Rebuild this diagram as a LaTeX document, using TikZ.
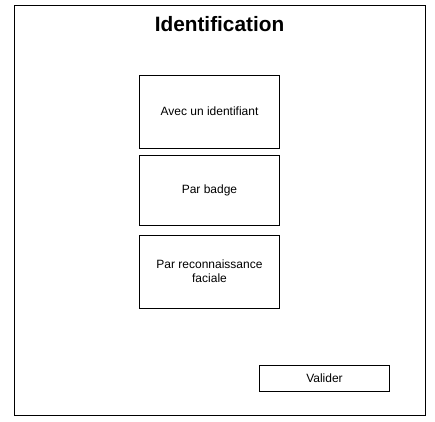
\documentclass[tikz,border=0pt]{standalone}
\usepackage{fontspec}
\setmainfont{Liberation Sans}
\begin{document}
\begin{tikzpicture}[x=0.75pt,y=-0.75pt,line width=0.75pt,
  frame/.style={draw=black,rectangle,inner sep=0pt,minimum width=308.25pt,minimum height=307.5pt},
  box/.style={draw=black,rectangle,minimum width=105pt,minimum height=54.75pt,align=center,inner sep=2pt,font=\fontsize{9}{10.5}\selectfont},
  btn/.style={draw=black,rectangle,minimum width=97.5pt,minimum height=19.5pt,font=\fontsize{9}{10.5}\selectfont,inner sep=0pt}]
\useasboundingbox (0,0) rectangle (435,421);
\node[frame] (fr) at (220,210.5) {};
\node[font=\bfseries\fontsize{15.6}{18}\selectfont] (title) at (219.5,24.5) {Identification};
\node[box] (b1) at (209.5,111.5) {Avec un identifiant};
\node[box,minimum height=52.5pt] (b2) at (209.5,190) {Par badge};
\node[box] (b3) at (209.5,271.5) {Par reconnaissance\\faciale};
\node[btn] (v) at (324.5,378) {Valider};
\end{tikzpicture}
\end{document}
